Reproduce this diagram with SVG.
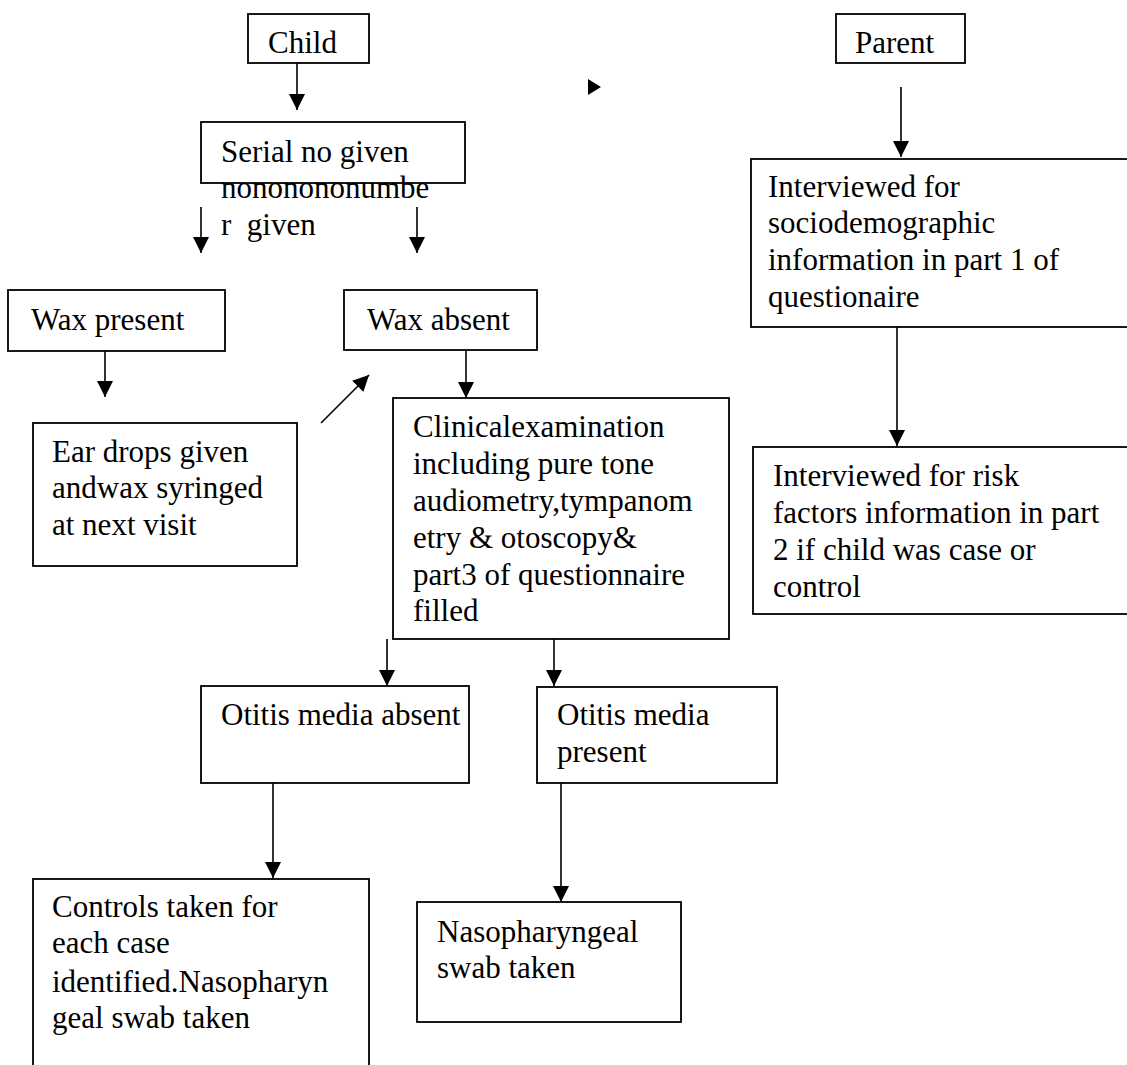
<svg xmlns="http://www.w3.org/2000/svg" width="1127" height="1065" viewBox="0 0 1127 1065">
<style>
  .box { fill: #fff; stroke: #000; stroke-width: 1.8; }
  .t { font-family: "Liberation Serif", "Times New Roman", serif; font-size: 31px; fill: #000; }
  .c { stroke: #000; stroke-width: 1.6; fill: none; marker-end: url(#ah); }
</style>
<defs>
  <marker id="ah" markerUnits="userSpaceOnUse" markerWidth="16" markerHeight="16" refX="16" refY="8" orient="auto">
    <path d="M0,0 L16,8 L0,16 Z" fill="#000"/>
  </marker>
</defs>
<rect width="1127" height="1065" fill="#fff"/>

<g id="connectors">
  <line class="c" x1="297" y1="63" x2="297" y2="110"/>
  <line class="c" x1="201" y1="207" x2="201" y2="253"/>
  <line class="c" x1="417" y1="207" x2="417" y2="253"/>
  <line class="c" x1="901" y1="87" x2="901" y2="157"/>
  <line class="c" x1="897" y1="327" x2="897" y2="446"/>
  <line class="c" x1="105" y1="351" x2="105" y2="397"/>
  <line class="c" x1="321" y1="423" x2="369" y2="375"/>
  <line class="c" x1="466" y1="350" x2="466" y2="398"/>
  <line class="c" x1="387" y1="639" x2="387" y2="686"/>
  <line class="c" x1="554" y1="639" x2="554" y2="686"/>
  <line class="c" x1="273" y1="783" x2="273" y2="878"/>
  <line class="c" x1="561" y1="783" x2="561" y2="902"/>
  <polygon points="588,79 601,87 588,95" fill="#000"/>
</g>

<g id="child">
  <rect class="box" x="248" y="14" width="121" height="49"/>
  <text class="t" x="268" y="53">Child</text>
</g>
<g id="parent">
  <rect class="box" x="836" y="14" width="129" height="49"/>
  <text class="t" x="855" y="53">Parent</text>
</g>
<g id="serial">
  <rect class="box" x="201" y="122" width="264" height="61"/>
  <text class="t" x="221" y="162">Serial no given</text>
  <text class="t" x="221" y="198">nononononumbe</text>
  <text class="t" x="221" y="235" xml:space="preserve">r  given</text>
</g>
<g id="interview1">
  <rect class="box" x="751" y="159" width="380" height="168"/>
  <text class="t" x="768" y="197">Interviewed for</text>
  <text class="t" x="768" y="233">sociodemographic</text>
  <text class="t" x="768" y="270">information in part 1 of</text>
  <text class="t" x="768" y="307">questionaire</text>
</g>
<g id="interview2">
  <rect class="box" x="753" y="447" width="378" height="167"/>
  <text class="t" x="773" y="486">Interviewed for risk</text>
  <text class="t" x="773" y="523">factors information in part</text>
  <text class="t" x="773" y="560">2 if child was case or</text>
  <text class="t" x="773" y="597">control</text>
</g>
<g id="wax-present">
  <rect class="box" x="8" y="290" width="217" height="61"/>
  <text class="t" x="31" y="330">Wax present</text>
</g>
<g id="wax-absent">
  <rect class="box" x="344" y="290" width="193" height="60"/>
  <text class="t" x="367" y="330">Wax absent</text>
</g>
<g id="ear-drops">
  <rect class="box" x="33" y="423" width="264" height="143"/>
  <text class="t" x="52" y="462">Ear drops given</text>
  <text class="t" x="52" y="498">andwax syringed</text>
  <text class="t" x="52" y="535">at next visit</text>
</g>
<g id="clinical">
  <rect class="box" x="393" y="398" width="336" height="241"/>
  <text class="t" x="413" y="437">Clinicalexamination</text>
  <text class="t" x="413" y="474">including pure tone</text>
  <text class="t" x="413" y="511">audiometry,tympanom</text>
  <text class="t" x="413" y="548">etry &amp; otoscopy&amp;</text>
  <text class="t" x="413" y="585">part3 of questionnaire</text>
  <text class="t" x="413" y="621">filled</text>
</g>
<g id="om-absent">
  <rect class="box" x="201" y="686" width="268" height="97"/>
  <text class="t" x="221" y="725">Otitis media absent</text>
</g>
<g id="om-present">
  <rect class="box" x="537" y="687" width="240" height="96"/>
  <text class="t" x="557" y="725">Otitis media</text>
  <text class="t" x="557" y="762">present</text>
</g>
<g id="controls">
  <rect class="box" x="33" y="879" width="336" height="200"/>
  <text class="t" x="52" y="917">Controls taken for</text>
  <text class="t" x="52" y="953">each case</text>
  <text class="t" x="52" y="992">identified.Nasopharyn</text>
  <text class="t" x="52" y="1028">geal swab taken</text>
</g>
<g id="naso">
  <rect class="box" x="417" y="902" width="264" height="120"/>
  <text class="t" x="437" y="942">Nasopharyngeal</text>
  <text class="t" x="437" y="978">swab taken</text>
</g>
</svg>
